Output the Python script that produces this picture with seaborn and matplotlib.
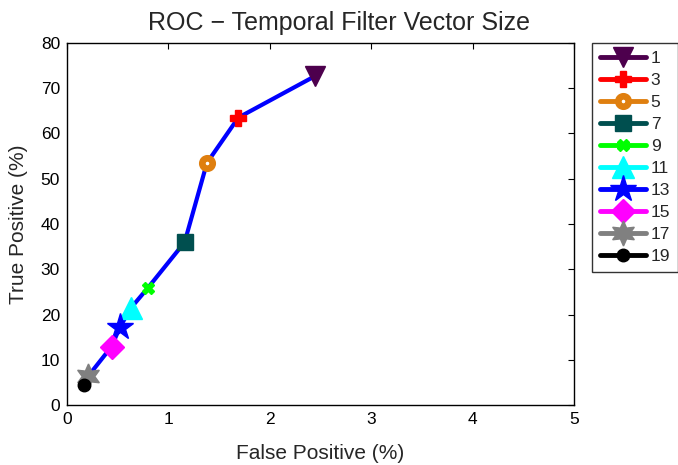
"""ROC - tamano del vector del filtro temporal (estilo MATLAB)."""

import matplotlib

matplotlib.use("Agg")
import matplotlib.pyplot as plt
import pandas as pd
import seaborn as sns
from matplotlib.lines import Line2D

sns.set_theme(style="white")
plt.rcParams["font.family"] = ["Liberation Sans", "DejaVu Sans"]

sizes = ["1", "3", "5", "7", "9", "11", "13", "15", "17", "19"]
false_pos = [2.45, 1.69, 1.38, 1.16, 0.80, 0.63, 0.52, 0.44, 0.21, 0.17]
true_pos = [72.7, 63.5, 53.5, 36.0, 26.0, 21.5, 17.2, 13.0, 6.5, 4.6]

colors = ["#4d004d", "#ff0000", "#df7f0f", "#004f4f", "#00ff00",
          "#00ffff", "#0000ff", "#ff00ff", "#808080", "#000000"]
markers = ["v", "P", "o", "s", "X", "^", "*", "D", (6, 1, 0), "o"]
msizes = [15, 11, 7.5, 12, 9, 16, 20, 12, 18, 9]

df = pd.DataFrame({"fp": false_pos, "tp": true_pos, "size": sizes})

fig = plt.figure(figsize=(6.78, 4.65), dpi=100)
ax = fig.add_axes([0.0988, 0.128, 0.7478, 0.78])

sns.lineplot(data=df, x="fp", y="tp", sort=False, color="#0000ff",
             linewidth=3, ax=ax, legend=False)

handles = []
for i, lab in enumerate(sizes):
    ring = lab == "5"
    kw = dict(marker=markers[i], markersize=msizes[i], color=colors[i],
              markeredgecolor=colors[i],
              markerfacecolor="white" if ring else colors[i],
              markeredgewidth=4.8 if ring else 1)
    ax.plot([false_pos[i]], [true_pos[i]], linestyle="none", **kw)
    handles.append(Line2D([0], [0], linewidth=3.5, label=lab, **kw))

ax.set_xlim(0, 5)
ax.set_ylim(0, 80)
ax.set_xticks(range(0, 6))
ax.set_yticks(range(0, 81, 10))
ax.tick_params(direction="in", length=4, width=0.8, top=True, right=True,
               labelsize=12.5, pad=5, colors="black")
for s in ax.spines.values():
    s.set_visible(True)
    s.set_color("black")
    s.set_linewidth(1.0)
ax.set_xlabel("False Positive (%)", fontsize=15, labelpad=12)
ax.set_ylabel("True Positive (%)", fontsize=15, labelpad=9)
# el titulo va centrado en la figura, no en los ejes
fig.text(0.5, 0.9355, "ROC \u2212 Temporal Filter Vector Size", fontsize=18,
         ha="center", va="baseline")

leg = fig.legend(handles=handles, loc="upper left",
                 bbox_to_anchor=(0.860, 0.927), fontsize=12.5,
                 handlelength=2.7, labelspacing=0.40, handletextpad=0.25,
                 borderpad=0.45, borderaxespad=0.5, frameon=True,
                 fancybox=False)
leg.get_frame().set_edgecolor("black")
leg.get_frame().set_linewidth(1.0)

fig.savefig("out.png", dpi=100)
